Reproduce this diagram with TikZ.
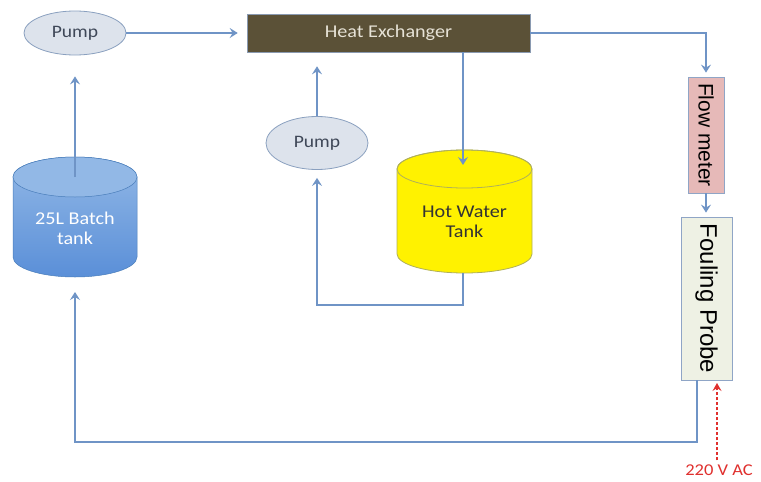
\documentclass[tikz,border=0pt]{standalone}
\usepackage{fontspec}
\setmainfont{Carlito}[FakeStretch=1.12]
\newfontfamily\arialf{Liberation Sans}
\usetikzlibrary{arrows.meta,shapes.geometric}
\definecolor{pipec}{HTML}{6F94C6}
\definecolor{pumpfill}{HTML}{DDE3EC}
\definecolor{pumpdraw}{HTML}{8AA0BF}
\definecolor{pumptext}{HTML}{3F4858}
\definecolor{hxfill}{HTML}{5B5137}
\definecolor{hxtext}{HTML}{E6E2D6}
\definecolor{fmfill}{HTML}{E6B9B8}
\definecolor{fpfill}{HTML}{EEF1E4}
\definecolor{boxdraw}{HTML}{8FA5C6}
\definecolor{acred}{HTML}{E0302E}
\definecolor{tanktop}{HTML}{92B8E6}
\definecolor{tankbot}{HTML}{5A8FD8}
\definecolor{tankline}{HTML}{4A7EBB}
\definecolor{hotline}{HTML}{B0B05A}
\tikzset{
  pumpst/.style={ellipse, draw=pumpdraw, fill=pumpfill, line width=0.8pt, minimum width=102pt, text=pumptext, font=\fontsize{17.5}{19}\selectfont},
  pipe/.style={draw=pipec, line width=2pt, -{Stealth[length=8pt,width=10pt,inset=3pt]}},
  acarrow/.style={draw=acred, line width=2pt, dash pattern=on 3.5pt off 1.5pt, -{Stealth[length=8pt,width=9pt,inset=3pt]}},
  tanktext/.style={align=center, font=\fontsize{18}{20}\selectfont}
}
\begin{document}
\begin{tikzpicture}[x=1pt,y=-1pt]
\useasboundingbox (0,0) rectangle (761,482);
\fill[white] (0,0) rectangle (761,482);

% Batch tank (cylinder)
\shade[top color=tanktop, bottom color=tankbot, draw=tankline, line width=0.5pt]
  (13,177) -- (13,257) arc[start angle=180, end angle=0, x radius=62, y radius=20]
  -- (137,177) arc[start angle=360, end angle=180, x radius=62, y radius=20] -- cycle;
\filldraw[fill=tanktop, draw=tankline, line width=0.5pt] (75,177) ellipse[x radius=62, y radius=20];
\node[tanktext, text=white] (batch) at (75,228) {25L Batch\\tank};
\coordinate (batchtop) at (75,177);
\coordinate (batchbot) at (75,277);

% Hot water tank (cylinder)
\filldraw[fill=yellow, draw=hotline, line width=0.8pt]
  (397,169) -- (397,254) arc[start angle=180, end angle=0, x radius=67.5, y radius=19]
  -- (532,169) arc[start angle=360, end angle=180, x radius=67.5, y radius=19] -- cycle;
\draw[hotline, line width=0.8pt] (464.5,169) ellipse[x radius=67.5, y radius=19];
\node[tanktext, text=black!80] (hot) at (464.5,222) {Hot Water\\Tank};
\coordinate (hotin) at (463,165);
\coordinate (hotbot) at (463,273);
\coordinate (hotret) at (463,305);

% Pumps
\node[pumpst, minimum height=44pt] (pumpA) at (75,33) {Pump};
\node[pumpst, minimum height=53pt] (pumpB) at (317,143) {Pump};

% Heat exchanger
\node[draw=boxdraw!70!gray, fill=hxfill, line width=0.6pt, minimum width=283pt, minimum height=38pt,
      text=hxtext, font=\fontsize{18}{19}\selectfont] (hx) at (388.5,33) {Heat Exchanger};

% Flow meter and fouling probe
\node[draw=boxdraw, fill=fmfill, line width=0.8pt, rotate=-90, minimum width=116pt, minimum height=36pt,
      inner sep=0pt, font=\arialf\fontsize{21}{23}\selectfont] (flow) at (706,135) {Flow meter};
\node[draw=boxdraw, fill=fpfill, line width=0.8pt, rotate=-90, minimum width=163pt, minimum height=51pt,
      inner sep=0pt, font=\arialf\fontsize{24}{26}\selectfont] (probe) at (706.5,298.5) {Fouling Probe};
\coordinate (pout) at (697,380);
\coordinate (pcorner) at (697,442);
\coordinate (acin) at (717,381);

% 220 V AC
\node[text=acred, font=\fontsize{16.5}{18}\selectfont, inner sep=1pt] (ac) at (719,470) {220 V AC};

% Connectors
\draw[pipe, shorten >=9pt] (pumpA.east) -- (hx.west);
\draw[pipe, shorten >=21pt] (batchtop) -- (batchtop |- pumpA.south);
\draw[pipe, shorten >=14pt] (pumpB.north) -- (pumpB.north |- hx.south);
\draw[pipe] (hotin |- hx.south) -- (hotin);
\draw[pipe, shorten >=8pt] (hotbot) -- (hotret) -| (pumpB.south);
\draw[pipe, shorten >=4pt] (hx.east) -| (flow.west);
\draw[pipe, shorten >=4pt] (flow.east) -- (probe.west -| flow.east);
\draw[pipe, shorten >=15pt] (pout) -- (pcorner) -| (batchbot);
\draw[acarrow, shorten >=2pt, shorten <=3pt] (ac.north -| acin) -- (acin);
\end{tikzpicture}
\end{document}
